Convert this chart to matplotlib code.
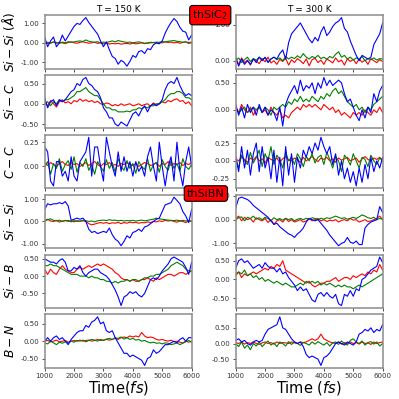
import numpy as np
import matplotlib
matplotlib.use("Agg")
import matplotlib.pyplot as plt
from matplotlib.ticker import MultipleLocator, FormatStrFormatter

plt.rcParams["axes.unicode_minus"] = False

# ---- thSiC2, T = 150 K ----
sic150_sisi_r = [0.02,-0.03,0.0,0.04,-0.02,0.03,0.0,-0.04,0.02,0.05,0.0,-0.02,0.03,0.05,0.02,-0.02,0.0,0.03,-0.03,0.0,-0.05,-0.02,-0.06,-0.03,-0.05,-0.02,-0.07,-0.04,-0.03,-0.06,-0.02,-0.05,-0.03,0.0,-0.04,-0.02,0.0,0.02,-0.02,0.03,0.0,0.05,0.02,0.04,0.0,0.03,-0.02,0.02,0.05,-0.03,0.0]
sic150_sisi_g = [0.0,0.03,-0.02,0.05,0.02,-0.03,0.04,0.0,0.06,0.03,0.05,0.08,0.1,0.07,0.15,0.08,0.05,0.03,0.06,0.0,0.04,0.02,0.06,0.1,0.05,0.12,0.08,0.05,0.02,0.04,0.0,0.03,0.05,0.02,-0.02,0.0,0.03,0.01,0.04,0.02,0.06,0.05,0.08,0.1,0.12,0.08,0.06,0.03,0.05,0.02,0.04]
sic150_sisi_b = [0.3,-0.2,0.1,0.3,-0.2,0.0,0.4,0.1,0.35,0.6,0.85,1.0,0.95,1.15,1.3,1.05,0.85,0.65,0.45,0.1,-0.2,0.05,-0.35,-0.7,-0.8,-1.1,-0.9,-1.0,-1.2,-0.95,-0.65,-0.75,-0.45,-0.4,-0.55,-0.3,-0.35,-0.1,0.0,-0.05,0.1,0.5,0.8,1.05,1.25,1.1,0.8,0.6,0.55,0.15,0.4]

sic150_sic_r = [0.05,-0.05,0.08,0.0,-0.08,0.05,0.1,0.02,0.05,0.0,0.08,0.05,0.12,0.06,0.1,0.05,0.08,0.03,0.06,0.0,-0.02,0.02,0.0,-0.05,-0.02,-0.05,0.0,-0.04,-0.02,0.0,-0.05,-0.03,0.0,-0.05,-0.02,0.0,-0.06,0.02,-0.03,0.0,0.05,0.02,0.08,0.05,0.1,0.12,0.06,0.08,0.0,0.05,-0.05]
sic150_sic_g = [0.0,0.05,-0.05,0.05,0.0,0.1,0.05,0.1,0.1,0.15,0.2,0.3,0.3,0.35,0.4,0.3,0.25,0.2,0.2,0.1,0.0,-0.1,-0.1,-0.15,-0.15,-0.2,-0.2,-0.2,-0.18,-0.2,-0.15,-0.15,-0.1,-0.12,-0.08,-0.1,-0.05,-0.05,0.0,0.0,0.05,0.1,0.2,0.25,0.25,0.3,0.3,0.25,0.15,0.15,0.1]
sic150_sic_b = [0.15,-0.1,0.05,0.1,-0.05,0.1,0.05,0.1,0.2,0.3,0.35,0.5,0.45,0.6,0.65,0.5,0.45,0.35,0.3,0.15,-0.1,-0.2,-0.35,-0.35,-0.5,-0.55,-0.45,-0.5,-0.55,-0.4,-0.25,-0.2,-0.3,-0.15,-0.05,-0.2,-0.05,0.0,-0.05,0.0,0.1,0.35,0.5,0.55,0.5,0.65,0.45,0.3,0.2,0.25,0.2]

sic150_cc_r = [0.03,0.01,0.04,0.02,0.0,0.03,0.05,0.02,0.01,0.04,0.02,0.03,0.0,0.02,0.04,0.01,0.03,0.05,0.02,0.0,0.03,0.02,0.04,0.01,0.02,0.0,0.03,0.02,0.04,0.02,0.01,0.03,0.0,0.02,0.04,0.03,0.01,0.02,0.04,0.0,0.03,0.02,0.05,0.01,0.03,0.02,0.04,0.01,0.03,0.02,0.04]
sic150_cc_g = [0.0,0.05,-0.08,0.03,-0.02,0.08,-0.05,0.02,0.06,-0.03,0.1,-0.06,0.04,0.0,0.08,-0.04,0.02,-0.08,0.05,0.0,-0.05,0.07,-0.02,0.04,-0.06,0.08,0.0,-0.04,0.06,-0.02,0.03,-0.07,0.05,0.0,-0.03,0.08,-0.05,0.02,0.04,-0.06,0.07,0.0,-0.04,0.06,-0.02,0.03,-0.05,0.08,0.0,-0.03,0.02]
sic150_cc_b = [0.2,0.15,-0.15,-0.2,0.05,0.05,-0.1,-0.05,-0.15,0.1,-0.1,-0.15,0.05,0.1,0.15,0.3,-0.1,0.2,0.2,0.0,-0.15,0.3,0.15,0.0,-0.1,0.15,-0.05,0.1,-0.05,0.05,-0.1,0.05,-0.05,0.0,-0.1,0.1,0.2,0.0,-0.15,0.25,0.0,-0.2,0.0,0.1,-0.15,0.25,-0.05,-0.2,0.05,0.2,0.0]

# ---- thSiC2, T = 300 K ----
sic300_sisi_r = [0.05,-0.1,0.08,-0.05,0.02,-0.12,0.05,0.0,-0.08,0.06,-0.03,0.1,-0.06,0.0,-0.1,0.04,-0.02,0.07,-0.12,0.03,-0.05,0.06,0.0,-0.08,0.05,-0.14,0.03,0.07,-0.05,0.02,-0.1,0.05,0.0,-0.06,0.08,-0.03,0.02,-0.12,0.06,-0.02,0.04,-0.08,0.05,-0.04,0.02,-0.1,0.06,0.0,-0.05,0.03,-0.02]
sic300_sisi_g = [0.0,0.08,-0.05,0.03,0.1,-0.02,0.06,0.02,0.1,0.04,0.08,-0.03,0.05,0.1,0.03,0.08,0.0,0.12,0.05,0.1,0.06,0.14,0.08,0.2,0.1,0.05,0.12,0.08,0.15,0.06,0.1,0.04,0.12,0.08,0.18,0.25,0.1,0.15,0.05,0.1,0.02,0.08,0.05,0.12,0.0,0.06,0.03,0.08,0.02,0.06,0.05]
sic300_sisi_b = [0.1,-0.15,0.05,-0.1,0.0,-0.1,0.05,-0.05,0.1,0.0,0.1,-0.05,0.05,0.1,0.05,0.2,0.3,0.05,0.5,0.75,0.85,0.95,1.05,0.9,0.75,0.6,0.5,0.65,0.55,0.8,0.95,0.7,0.8,0.95,1.05,1.1,1.2,0.9,0.8,0.55,0.35,0.15,0.0,0.15,0.1,0.05,0.1,0.45,0.6,0.75,1.05]

sic300_sic_r = [0.05,-0.05,0.1,0.0,-0.05,0.05,-0.1,0.0,0.05,-0.05,0.0,-0.1,0.05,-0.05,-0.1,0.0,-0.15,-0.1,-0.15,-0.05,0.0,0.05,0.0,0.1,0.05,0.1,0.05,0.1,0.05,0.0,0.1,0.05,0.0,0.05,-0.05,0.0,-0.1,-0.05,-0.1,-0.15,-0.05,-0.1,-0.05,-0.1,0.0,-0.05,-0.1,0.0,-0.05,0.05,-0.05]
sic300_sic_g = [0.05,-0.05,0.0,0.05,-0.05,0.0,0.05,0.0,0.05,-0.05,0.05,0.0,-0.1,0.05,0.0,0.05,0.1,0.05,0.15,0.1,0.2,0.15,0.25,0.15,0.2,0.15,0.25,0.2,0.15,0.25,0.2,0.3,0.25,0.35,0.4,0.3,0.35,0.25,0.15,0.1,0.05,0.1,0.0,0.05,-0.05,0.05,0.0,0.1,0.15,0.2,0.25]
sic300_sic_b = [0.1,-0.1,0.05,-0.15,0.1,-0.05,0.05,-0.1,0.1,-0.05,0.05,-0.1,0.0,-0.05,-0.2,0.05,-0.3,0.1,0.25,0.35,0.45,0.3,0.55,0.35,0.45,0.4,0.5,0.3,0.5,0.4,0.6,0.45,0.55,0.45,0.5,0.55,0.5,0.3,0.15,0.2,0.05,-0.1,-0.2,0.0,-0.15,0.05,-0.05,0.3,0.15,0.35,0.45]

sic300_cc_r = [0.03,0.0,0.05,0.02,-0.02,0.04,0.01,0.06,0.0,0.03,-0.03,0.05,0.02,0.0,0.04,-0.02,0.03,0.06,0.01,0.0,0.04,0.02,-0.02,0.05,0.0,0.03,0.06,0.02,-0.01,0.04,0.02,0.05,0.0,0.03,-0.02,0.04,0.01,0.03,0.05,0.0,0.02,0.04,-0.02,0.03,0.06,0.02,0.0,0.04,0.02,0.05,0.01]
sic300_cc_g = [0.05,-0.1,0.08,0.0,-0.05,0.12,-0.03,0.05,0.15,-0.08,0.1,0.0,0.2,-0.05,0.08,0.02,-0.1,0.12,0.0,0.05,-0.05,0.1,0.03,-0.08,0.06,0.0,0.1,-0.03,0.05,0.08,-0.05,0.12,0.02,-0.1,0.06,0.0,-0.15,0.08,0.03,-0.06,0.1,0.0,-0.1,0.05,0.02,-0.08,0.08,0.0,-0.05,0.04,0.0]
sic300_cc_b = [0.05,-0.15,0.2,-0.1,0.15,-0.2,0.1,0.25,-0.15,0.2,-0.1,0.05,-0.25,0.15,-0.3,0.05,-0.35,0.2,-0.2,0.1,-0.3,0.05,-0.1,0.15,0.05,0.2,0.1,0.25,0.15,0.33,0.2,0.1,0.2,-0.05,0.1,-0.2,0.0,-0.25,-0.1,-0.3,-0.15,-0.35,-0.1,-0.3,-0.05,-0.25,0.05,-0.15,0.0,-0.1,0.05]

# ---- thSiBN, T = 150 K ----
sibn150_sisi_r = [0.05,0.1,0.02,0.0,0.05,-0.03,0.02,0.05,0.0,0.03,-0.02,0.04,0.0,0.03,0.0,-0.1,-0.15,-0.12,-0.08,-0.05,-0.08,-0.05,-0.1,-0.06,-0.08,-0.04,-0.1,-0.05,-0.08,-0.03,-0.06,-0.04,-0.08,-0.05,-0.06,-0.02,-0.05,0.0,-0.02,0.03,0.0,0.05,0.02,0.04,0.0,-0.03,0.02,0.0,-0.05,0.02,0.0]
sibn150_sisi_g = [0.0,0.08,0.12,0.05,0.02,0.06,0.0,0.03,0.05,-0.02,0.04,0.0,0.02,0.05,0.03,0.0,0.02,-0.02,0.03,0.05,0.06,0.04,0.08,0.05,0.06,0.03,0.05,0.02,0.04,0.03,0.05,0.02,0.04,0.06,0.03,0.05,0.08,0.1,0.15,0.12,0.1,0.08,0.06,0.05,0.04,0.06,0.03,0.05,0.02,0.04,0.02]
sibn150_sisi_b = [0.55,0.8,0.75,0.8,0.8,0.85,0.8,0.9,0.7,0.05,0.1,0.15,0.1,0.15,0.0,-0.35,-0.5,-0.45,-0.55,-0.5,-0.45,-0.5,-0.3,-0.6,-0.8,-0.9,-1.1,-0.9,-0.65,-0.75,-0.5,-0.45,-0.35,-0.45,-0.25,-0.2,-0.1,0.0,0.1,0.15,0.45,0.75,0.8,0.85,1.1,0.95,0.8,0.45,0.25,-0.05,0.55]

sibn150_sib_r = [0.2,0.05,0.2,0.1,0.05,0.2,0.3,0.2,0.15,0.1,0.1,0.2,0.25,0.2,0.25,0.3,0.25,0.3,0.35,0.3,0.35,0.3,0.25,0.2,0.1,0.05,-0.05,-0.1,-0.1,-0.15,-0.1,-0.15,-0.15,-0.1,-0.1,-0.05,-0.1,-0.15,-0.05,-0.1,-0.05,0.0,0.05,0.05,0.0,0.05,0.1,0.1,0.05,0.1,0.15]
sibn150_sib_g = [0.3,0.3,0.35,0.3,0.3,0.25,0.2,0.15,0.1,0.05,0.05,0.05,0.0,0.0,0.0,-0.05,0.0,-0.05,-0.05,-0.1,-0.1,-0.15,-0.15,-0.2,-0.15,-0.2,-0.15,-0.15,-0.1,-0.15,-0.1,-0.1,-0.15,-0.1,-0.05,-0.05,0.0,0.0,0.05,0.05,0.1,0.15,0.2,0.3,0.35,0.4,0.35,0.3,0.2,0.15,0.15]
sibn150_sib_b = [0.5,0.45,0.4,0.4,0.35,0.45,0.5,0.4,0.15,0.15,0.25,0.2,0.3,0.1,0.0,0.1,0.15,0.2,0.2,0.1,0.05,0.0,-0.1,-0.25,-0.4,-0.6,-0.85,-0.6,-0.55,-0.45,-0.5,-0.45,-0.55,-0.6,-0.5,-0.3,-0.1,-0.05,-0.1,0.0,0.15,0.25,0.35,0.5,0.55,0.5,0.45,0.4,0.25,0.05,0.4]

sibn150_bn_r = [0.0,0.02,-0.02,0.0,0.03,-0.02,0.0,0.02,-0.03,0.0,0.02,0.0,0.03,0.0,0.02,0.03,0.0,0.02,0.05,0.02,0.03,0.05,0.03,0.05,0.08,0.05,0.1,0.12,0.1,0.15,0.12,0.15,0.12,0.25,0.15,0.1,0.12,0.1,0.05,0.03,0.05,0.02,0.0,0.03,-0.02,0.0,-0.03,-0.05,0.0,-0.03,0.0]
sibn150_bn_g = [-0.05,-0.08,0.0,-0.05,-0.1,-0.03,-0.06,-0.02,-0.05,0.0,-0.03,0.02,0.0,0.03,-0.02,0.02,0.05,0.03,0.0,0.05,0.02,0.06,0.08,0.05,0.1,0.08,0.12,0.06,0.1,0.05,0.08,0.03,0.05,0.0,0.02,-0.02,-0.05,-0.03,-0.06,-0.05,-0.08,-0.05,-0.06,-0.1,-0.08,-0.05,-0.1,-0.06,-0.02,0.02,-0.03]
sibn150_bn_b = [0.0,0.1,0.0,0.1,0.15,0.05,0.1,0.0,-0.1,0.05,0.15,0.25,0.3,0.3,0.45,0.4,0.55,0.6,0.7,0.5,0.55,0.3,0.25,0.3,0.1,-0.05,-0.2,-0.35,-0.35,-0.45,-0.4,-0.45,-0.5,-0.55,-0.7,-0.5,-0.45,-0.25,-0.35,-0.3,-0.2,-0.1,-0.1,-0.05,0.0,-0.05,0.05,0.1,0.0,0.1,0.1]

# ---- thSiBN, T = 300 K ----
sibn300_sisi_r = [0.05,0.15,-0.05,0.1,0.0,0.05,-0.1,0.08,0.0,-0.05,0.05,-0.12,0.0,-0.2,-0.05,0.0,-0.1,0.05,-0.08,0.0,-0.1,-0.05,0.0,-0.1,-0.05,0.05,-0.05,0.0,0.05,-0.05,0.0,-0.08,-0.02,-0.05,0.0,-0.1,-0.03,0.0,-0.05,0.05,-0.02,0.0,-0.1,-0.05,0.0,-0.08,-0.05,0.0,0.05,0.15,0.0]
sibn300_sisi_g = [0.0,0.08,0.12,-0.05,0.1,0.05,0.15,0.02,0.08,0.0,0.1,0.05,-0.05,0.08,0.0,0.05,-0.02,0.06,0.0,0.05,-0.05,0.02,0.05,0.0,0.06,0.02,0.08,0.05,0.0,0.06,0.02,0.08,0.05,0.1,0.15,0.1,0.05,0.08,0.02,0.06,0.1,0.05,0.12,0.2,0.15,0.08,0.05,0.1,0.0,0.05,0.02]
sibn300_sisi_b = [0.5,0.9,0.95,0.9,0.85,0.75,0.6,0.5,0.4,0.3,0.2,0.1,-0.05,-0.2,-0.15,-0.3,-0.4,-0.5,-0.6,-0.65,-0.75,-0.6,-0.5,-0.35,-0.1,0.05,0.0,-0.05,0.0,-0.15,-0.3,-0.45,-0.65,-0.8,-0.95,-1.1,-1.0,-0.95,-0.75,-0.95,-1.0,-0.9,-1.05,-1.05,-0.35,-0.2,-0.1,-0.05,0.0,0.55,0.3]

sibn300_sib_r = [0.1,0.2,0.05,0.15,0.1,0.15,0.2,0.15,0.2,0.25,0.3,0.25,0.35,0.3,0.4,0.35,0.5,0.25,0.2,0.15,0.1,0.05,0.0,-0.05,-0.1,-0.05,-0.15,-0.2,-0.15,-0.1,-0.1,-0.05,-0.05,0.0,0.05,-0.05,0.0,0.05,0.05,0.0,0.1,0.05,0.1,0.15,0.1,0.2,0.15,0.25,0.2,0.4,0.25]
sibn300_sib_g = [0.15,0.2,0.15,0.25,0.1,0.15,0.05,0.1,0.0,0.05,-0.05,0.0,-0.05,-0.1,-0.05,-0.1,-0.15,-0.1,-0.15,-0.2,-0.2,-0.15,-0.1,-0.15,-0.05,-0.1,-0.05,-0.1,-0.05,-0.15,-0.1,-0.15,-0.1,-0.15,-0.2,-0.15,-0.2,-0.15,-0.2,-0.2,-0.25,-0.2,-0.15,-0.2,-0.15,-0.1,-0.05,0.0,0.05,0.1,0.15]
sibn300_sib_b = [0.3,0.5,0.55,0.45,0.5,0.4,0.3,0.35,0.4,0.3,0.45,0.35,0.3,0.3,0.2,0.3,0.15,0.2,0.05,-0.05,-0.15,-0.3,-0.2,-0.3,-0.25,-0.4,-0.55,-0.6,-0.4,-0.35,-0.45,-0.35,-0.45,-0.5,-0.4,-0.65,-0.7,-0.4,-0.45,-0.3,-0.45,-0.25,-0.3,0.0,0.05,0.15,0.25,0.3,0.35,0.6,0.45]

sibn300_bn_r = [0.03,0.0,0.05,-0.02,0.03,0.0,0.05,0.0,-0.03,0.02,0.05,0.0,0.03,-0.02,0.05,0.0,0.03,0.02,0.0,0.05,0.02,0.0,0.05,0.03,0.05,0.1,0.15,0.1,0.15,0.3,0.15,0.1,0.05,0.02,0.0,0.05,-0.02,0.03,0.0,0.05,0.0,0.03,-0.02,0.05,0.0,0.02,-0.03,0.05,0.0,0.03,0.05]
sibn300_bn_g = [0.0,-0.1,0.05,-0.15,-0.05,-0.2,0.0,-0.08,0.05,-0.1,0.0,0.08,-0.05,0.02,-0.1,0.05,0.0,-0.08,0.06,-0.03,0.05,0.0,-0.06,0.03,0.0,-0.05,0.05,-0.02,0.06,0.0,-0.05,0.03,-0.08,0.02,0.05,-0.03,0.08,0.0,-0.05,0.1,0.15,0.05,0.0,0.08,-0.05,0.03,0.06,-0.02,0.05,-0.08,0.0]
sibn300_bn_b = [0.1,0.15,0.05,0.1,0.0,-0.05,0.05,0.1,0.05,0.1,0.3,0.45,0.5,0.55,0.6,0.85,0.5,0.45,0.3,0.15,0.05,0.0,0.05,-0.1,-0.35,-0.45,-0.4,-0.45,-0.5,-0.7,-0.45,-0.4,-0.3,-0.15,0.0,0.05,0.0,-0.05,0.05,0.0,-0.05,0.05,0.3,0.35,0.45,0.4,0.5,0.35,0.45,0.4,0.6]

row_labels = [r"$Si-Si\ (Å)$", r"$Si-C$", r"$C-C$", r"$Si-Si$", r"$Si-B$", r"$B-N$"]
col_titles = ["T = 150 K", "T = 300 K"]
ytick_steps = [1.0, 0.5, 0.25, 1.0, 0.5, 0.5]

panels = [
    [(sic150_sisi_r, sic150_sisi_g, sic150_sisi_b), (sic300_sisi_r, sic300_sisi_g, sic300_sisi_b)],
    [(sic150_sic_r, sic150_sic_g, sic150_sic_b), (sic300_sic_r, sic300_sic_g, sic300_sic_b)],
    [(sic150_cc_r, sic150_cc_g, sic150_cc_b), (sic300_cc_r, sic300_cc_g, sic300_cc_b)],
    [(sibn150_sisi_r, sibn150_sisi_g, sibn150_sisi_b), (sibn300_sisi_r, sibn300_sisi_g, sibn300_sisi_b)],
    [(sibn150_sib_r, sibn150_sib_g, sibn150_sib_b), (sibn300_sib_r, sibn300_sib_g, sibn300_sib_b)],
    [(sibn150_bn_r, sibn150_bn_g, sibn150_bn_b), (sibn300_bn_r, sibn300_bn_g, sibn300_bn_b)],
]

fig, axes = plt.subplots(6, 2, figsize=(3.99, 3.99), dpi=100)
fig.subplots_adjust(left=0.112, right=0.959, top=0.962, bottom=0.078, wspace=0.30, hspace=0.12)

for i in range(6):
    for j in range(2):
        ax = axes[i, j]
        red, green, blue = panels[i][j]
        t = np.linspace(1000, 6000, len(blue))
        ax.plot(t, red, color="red", lw=0.8)
        ax.plot(t, green, color="green", lw=0.8)
        ax.plot(t, blue, color="blue", lw=0.8)
        ax.set_xlim(1000, 6000)
        ax.xaxis.set_major_locator(MultipleLocator(1000))
        ax.yaxis.set_major_locator(MultipleLocator(ytick_steps[i]))
        ax.yaxis.set_major_formatter(FormatStrFormatter("%.2f"))
        ax.tick_params(labelsize=5, length=2.5, width=0.6, pad=1.5, colors="0.2")
        if i < 5:
            ax.tick_params(labelbottom=False)
        for s in ax.spines.values():
            s.set_color("0.55")
            s.set_linewidth(1.1)
        if i == 0:
            ax.set_title(col_titles[j], fontsize=6.5, pad=2.5)
        if j == 0:
            ax.set_ylabel(row_labels[i], fontsize=8.8)
            ax.yaxis.set_label_coords(-0.19, 0.5)

axes[5, 0].set_xlabel(r"Time($fs$)", fontsize=10.5, labelpad=0)
axes[5, 1].set_xlabel(r"Time ($fs$)", fontsize=10.5, labelpad=0)

box = dict(boxstyle="round,pad=0.25", facecolor="red", edgecolor="black", linewidth=0.8)
fig.text(0.527, 0.962, r"thSiC$_2$", fontsize=8, ha="center", va="center", bbox=box)
fig.text(0.516, 0.515, "thSiBN", fontsize=8, ha="center", va="center", bbox=box)

fig.savefig("out.png", dpi=100)
